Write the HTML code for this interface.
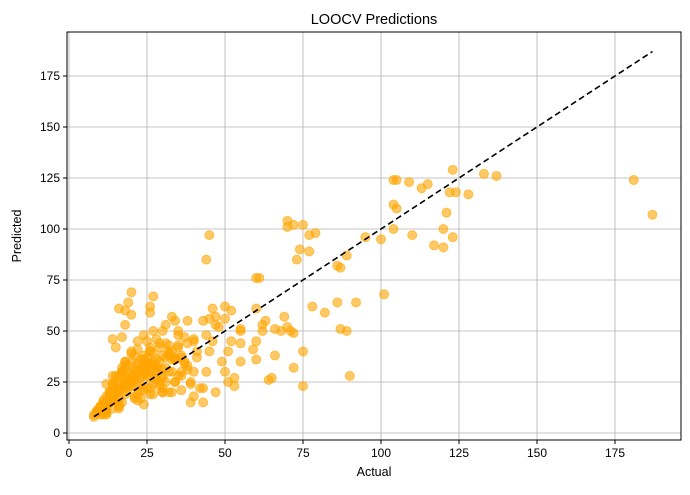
<!DOCTYPE html>
<html><head><meta charset="utf-8"><style>
body{margin:0;background:#fff;}
svg{font-family:"Liberation Sans","DejaVu Sans",sans-serif;}
</style></head><body>
<svg id="chart" width="690" height="490" xmlns="http://www.w3.org/2000/svg"></svg>
<script>
const actual=[181,187,133,137,123,124,128,115,113,109,104,105,104,105,104,100,110,117,120,121,122,120,123,95,89,101,92,86,87,89,90,86,87,82,78,79,77,75,72,70,70,77,74,73,75,75,72,69,70,71,72,68,66,64,65,66,63,62,60,61,60,62,60,60,59,55,55,52,50,50,48,52,51,49,50,51,53,53,55,55,47,45,44,43,45,46,47,44,46,45,44,43,43,47,42,40,39,39,40,41,40,38,37,36,35,35,34,33,30,31,27,26,26,27,25,24,22,20,18,19,20,16,18,17,15,14,
8,9,10,11,12,13,14,15,16,17,18,19,20,21,22,23,24,25,26,27,28,29,30,31,32,33,34,35,36,37,38,
9,10,11,12,13,14,15,16,17,18,19,20,21,22,23,24,25,26,27,28,29,30,31,32,33,34,35,36,
10,11,12,13,14,15,16,17,18,19,20,21,22,23,24,25,26,27,28,29,30,31,32,33,
11,12,13,14,15,16,17,18,19,20,21,22,23,24,25,26,27,28,29,30,
12,13,14,15,16,17,18,19,20,21,22,23,24,25,26,27,28,
9,11,13,15,17,19,21,23,25,27,29,31,33,35,37,39,41,
10,12,14,16,18,20,22,24,26,28,30,32,34,36,38,40,
12,14,16,18,20,22,24,26,28,30,32,34,36,38,
8,9,10,11,12,13,14,15,16,17,18,19,20,22,24,26,28,30,32,34];
const predicted=[124,107,127,126,129,118,117,122,120,123,124,124,112,110,100,95,97,92,91,108,118,100,96,96,87,68,64,64,51,50,28,82,81,59,62,98,97,102,102,104,101,89,90,85,40,23,32,57,52,50,49,50,38,26,27,51,55,53,76,76,61,50,45,36,41,50,44,60,62,56,52,45,40,35,30,25,23,27,35,51,57,97,85,55,56,61,53,48,45,40,30,22,15,20,22,18,15,25,30,40,45,55,47,37,43,50,55,57,50,53,67,62,59,50,45,48,45,58,60,64,69,61,53,47,42,46,
8,10,12,14,13,16,18,20,22,20,24,26,25,28,30,27,32,30,34,33,36,35,38,32,30,40,36,42,38,35,44,
11,9,15,18,20,12,22,25,15,28,30,26,18,34,24,36,22,40,35,30,42,28,44,20,36,25,48,30,
13,16,10,20,24,28,17,30,33,22,27,38,19,36,14,32,40,24,27,44,20,25,38,30,
14,11,18,22,26,13,30,35,24,40,17,33,28,21,37,42,19,33,23,31,
9,20,24,16,28,32,19,23,35,26,31,17,29,34,22,39,26,
10,12,15,19,22,26,31,21,28,33,25,37,20,28,34,24,37,
12,14,17,21,25,29,16,34,27,31,22,40,36,28,33,46,
24,28,12,35,39,23,30,19,32,27,43,37,21,31,
9,11,13,9,10,15,16,21,14,30,25,33,23,41,38,30,46,20,39,25];

const svg=document.getElementById('chart');
const NS='http://www.w3.org/2000/svg';
const L=67,R=681,T=32,B=440;
const xs=v=>69+v*3.12;
const ys=v=>433-v*2.04;
function el(t,a,p){const e=document.createElementNS(NS,t);for(const k in a)e.setAttribute(k,a[k]);(p||svg).appendChild(e);return e;}
const xt=[0,25,50,75,100,125,150,175],yt=[0,25,50,75,100,125,150,175];
const grid=el('g',{});


xt.forEach(v=>{el('line',{x1:xs(v),x2:xs(v),y1:T,y2:B,stroke:'#b0b0b0','stroke-width':0.8},grid);});
yt.forEach(v=>{el('line',{x1:L,x2:R,y1:ys(v),y2:ys(v),stroke:'#b0b0b0','stroke-width':0.8},grid);});
const pts=el('g',{});


for(let i=0;i<actual.length;i++){
  const c=el('circle',{cx:xs(actual[i]),cy:ys(predicted[i]),r:4.5,fill:'#ffa500','fill-opacity':0.6,stroke:'#ffa500','stroke-opacity':0.6,'stroke-width':1},pts);
  
  
}
const ln=el('line',{x1:xs(8),y1:ys(8),x2:xs(187),y2:ys(187),stroke:'#000','stroke-width':1.6,'stroke-dasharray':'6,3.5'});


const fr=el('rect',{x:L,y:T,width:R-L,height:B-T,fill:'none',stroke:'#000','stroke-width':1});


xt.forEach(v=>{el('line',{x1:xs(v),x2:xs(v),y1:B,y2:B+4,stroke:'#000'});
  const t=el('text',{x:xs(v),y:B+17,'text-anchor':'middle','font-size':12});t.textContent=v;
  });
yt.forEach(v=>{el('line',{x1:L-4,x2:L,y1:ys(v),y2:ys(v),stroke:'#000'});
  const t=el('text',{x:L-7,y:ys(v)+4,'text-anchor':'end','font-size':12});t.textContent=v;
  });
const ti=el('text',{x:(L+R)/2,y:24,'text-anchor':'middle','font-size':14.5});ti.textContent='LOOCV Predictions';

const xl=el('text',{x:(L+R)/2,y:476,'text-anchor':'middle','font-size':12.5});xl.textContent='Actual';

const yl=el('text',{x:0,y:0,'text-anchor':'middle','font-size':12.5,transform:'translate(21,236) rotate(-90)'});yl.textContent='Predicted';

</script>
</body></html>
